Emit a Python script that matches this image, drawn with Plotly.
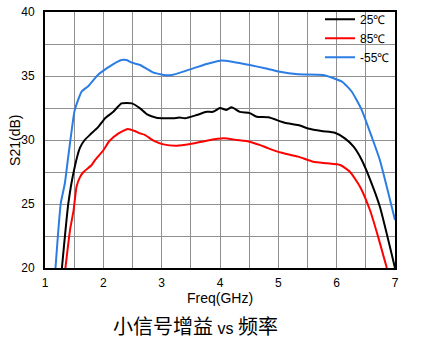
import plotly.graph_objects as go

# Small-signal gain S21 (dB) versus frequency (GHz) at three temperatures
freq_25 = [1.29, 1.40, 1.50, 1.60, 1.68, 1.77, 1.91, 2.03, 2.17, 2.31, 2.40, 2.49, 2.63,
           2.75, 2.91, 3.05, 3.20, 3.31, 3.40, 3.60, 3.77, 3.88, 4.00, 4.11, 4.20, 4.34,
           4.51, 4.63, 4.83, 5.11, 5.34, 5.51, 5.74, 5.97, 6.14, 6.29, 6.43, 6.60, 6.74, 7.00]
s21_25 = [20.0, 25.05, 27.7, 29.4, 30.0, 30.4, 31.0, 31.7, 32.2, 32.86, 32.9, 32.86, 32.47,
          32.0, 31.74, 31.7, 31.7, 31.75, 31.7, 31.95, 32.2, 32.2, 32.5, 32.35, 32.55, 32.2,
          32.1, 31.82, 31.77, 31.35, 31.17, 30.9, 30.7, 30.57, 30.13, 29.48, 28.44, 26.6, 24.8, 20.0]

freq_85 = [1.35, 1.43, 1.49, 1.54, 1.60, 1.66, 1.80, 1.86, 2.00, 2.10, 2.26, 2.42, 2.54,
           2.63, 2.71, 2.86, 3.03, 3.26, 3.49, 3.77, 4.06, 4.29, 4.51, 4.69, 4.83, 5.06,
           5.34, 5.60, 5.83, 6.06, 6.23, 6.40, 6.57, 6.71, 6.86]
s21_85 = [20.0, 23.0, 24.5, 26.35, 27.1, 27.5, 28.05, 28.44, 29.2, 29.9, 30.52, 30.86, 30.7,
          30.52, 30.4, 29.95, 29.66, 29.56, 29.69, 29.95, 30.13, 30.0, 29.87, 29.6, 29.35, 29.0,
          28.7, 28.3, 28.18, 28.05, 27.5, 26.35, 24.53, 22.45, 20.0]

freq_m55 = [1.18, 1.27, 1.34, 1.39, 1.45, 1.51, 1.63, 1.74, 1.91, 2.09, 2.31, 2.40, 2.49,
            2.63, 2.86, 3.14, 3.49, 3.77, 4.00, 4.23, 4.51, 4.77, 5.00, 5.34, 5.77, 6.09,
            6.26, 6.43, 6.60, 6.74, 7.00]
s21_m55 = [20.0, 25.05, 26.6, 28.4, 30.5, 32.34, 33.8, 34.2, 35.1, 35.7, 36.25, 36.25, 36.04,
           35.86, 35.26, 35.05, 35.52, 35.94, 36.2, 36.1, 35.86, 35.6, 35.35, 35.13, 35.08, 34.56,
           33.77, 32.34, 30.26, 28.44, 23.75]

series = [
    ("25℃", freq_25, s21_25, "#000000"),
    ("85℃", freq_85, s21_85, "#ff0000"),
    ("-55℃", freq_m55, s21_m55, "#2b7de3"),
]

x_ticks = [1, 2, 3, 4, 5, 6, 7]
y_ticks = [20, 25, 30, 35, 40]

LATIN = "Liberation Sans, Arial, sans-serif"
CJK = "Noto Sans CJK SC, sans-serif"
GRID = "#8f8f8f"

fig = go.Figure()
for name, fx, fy, color in series:
    fig.add_trace(go.Scatter(
        x=fx, y=fy, name=name, mode="lines",
        line=dict(color=color, width=2, shape="spline", smoothing=0.5),
    ))

axis_common = dict(
    showline=True, linecolor="#000000", linewidth=2, mirror=True,
    showgrid=True, gridcolor=GRID, gridwidth=1,
    ticks="", zeroline=False,
    tickfont=dict(family=LATIN, size=12, color="#000000"),
)

fig.update_xaxes(
    range=[1, 7], tickvals=x_ticks, ticklabelstandoff=3,
    minor=dict(dtick=0.5, showgrid=True, gridcolor=GRID, gridwidth=1),
    **axis_common,
)
fig.update_yaxes(
    range=[20, 40], tickvals=y_ticks, ticklabelstandoff=6,
    minor=dict(dtick=2.5, showgrid=True, gridcolor=GRID, gridwidth=1),
    **axis_common,
)

fig.add_annotation(
    text="Freq(GHz)", xref="paper", yref="paper", x=0.5, y=-0.117,
    xanchor="center", yanchor="middle", showarrow=False,
    font=dict(family=LATIN, size=14, color="#000000"),
)
fig.add_annotation(
    text="S21(dB)", xref="paper", yref="paper", x=-0.086, y=0.5,
    xanchor="center", yanchor="middle", showarrow=False, textangle=-90,
    font=dict(family=LATIN, size=14, color="#000000"),
)
fig.add_annotation(
    text="小信号增益 <span style='font-family:Liberation Sans; font-size:16px'>vs</span> 频率",
    xref="paper", yref="paper", x=0.431, y=-0.223,
    xanchor="center", yanchor="middle", showarrow=False,
    font=dict(family=CJK, size=20, color="#000000"),
)

fig.update_layout(
    width=431, height=340,
    margin=dict(l=45, r=36, t=12, b=72, autoexpand=False),
    paper_bgcolor="#ffffff", plot_bgcolor="#ffffff",
    showlegend=True,
    legend=dict(
        x=1, y=1.028, xanchor="right", yanchor="top",
        bgcolor="rgba(0,0,0,0)", borderwidth=0,
        font=dict(family=LATIN, size=12, color="#000000"),
        itemwidth=30, tracegroupgap=0,
    ),
)

fig.write_html("out.html")
